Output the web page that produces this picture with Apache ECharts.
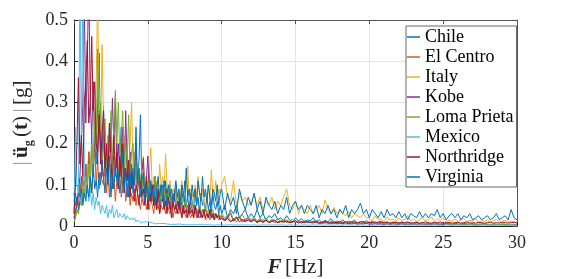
<!DOCTYPE html>
<html>
<head>
<meta charset="utf-8">
<script src="https://cdn.jsdelivr.net/npm/echarts@6/dist/echarts.min.js"></script>
<style>html,body{margin:0;padding:0;background:#fff;overflow:hidden;}#c{width:572px;height:279px;}</style>
</head>
<body>
<div id="c"></div>
<script>
// Spectra sampled at 0.1 Hz from 0 to 9.9 Hz (low band), then at 0.2 Hz from 10 to 30 Hz (high band)
const lowStart = 0, lowStep = 0.1;
const highStart = 10, highStep = 0.2;
const seriesNames = ['Chile','El Centro','Italy','Kobe','Loma Prieta','Mexico','Northridge','Virginia'];
const xTicks = [0,5,10,15,20,25,30];
const yTicks = [0,0.1,0.2,0.3,0.4,0.5];

const chileLow = [
0.06,0.08,0.05,0.09,0.07,0.12,0.06,0.1,0.15,0.08,
0.18,0.1,0.22,0.12,0.2,0.15,0.3,0.42,0.2,0.14,
0.29,0.12,0.18,0.1,0.21,0.25,0.09,0.17,0.12,0.2,
0.1,0.16,0.24,0.08,0.14,0.11,0.19,0.07,0.15,0.12,
0.09,0.14,0.2,0.1,0.16,0.27,0.08,0.12,0.06,0.11,
0.08,0.13,0.06,0.1,0.05,0.12,0.07,0.09,0.05,0.08,
0.1,0.05,0.11,0.07,0.06,0.09,0.04,0.08,0.06,0.1,
0.05,0.08,0.04,0.09,0.06,0.11,0.05,0.07,0.04,0.08,
0.06,0.04,0.09,0.05,0.07,0.03,0.08,0.05,0.06,0.04,
0.07,0.04,0.06,0.03,0.08,0.05,0.04,0.06,0.03,0.05];
const chileHigh = [
0.03,0.05,0.02,0.04,0.03,0.05,0.02,0.03,0.04,0.02,
0.03,0.02,0.04,0.02,0.03,0.015,0.025,0.02,0.03,0.015,
0.02,0.012,0.025,0.015,0.01,0.02,0.012,0.018,0.01,0.015,
0.012,0.02,0.01,0.015,0.008,0.014,0.01,0.018,0.009,0.012,
0.01,0.015,0.008,0.012,0.01,0.014,0.007,0.011,0.009,0.013,
0.008,0.011,0.007,0.01,0.012,0.007,0.009,0.006,0.01,0.008,
0.007,0.01,0.006,0.009,0.007,0.005,0.009,0.006,0.008,0.005,
0.007,0.005,0.008,0.006,0.004,0.007,0.005,0.006,0.004,0.007,
0.005,0.004,0.006,0.005,0.004,0.006,0.003,0.005,0.004,0.005,
0.004,0.003,0.005,0.004,0.003,0.005,0.004,0.003,0.004,0.003,
0.003];

const elCentroLow = [
0.02,0.04,0.06,0.05,0.1,0.08,0.12,0.07,0.15,0.1,
0.18,0.12,0.08,0.14,0.2,0.1,0.16,0.09,0.13,0.11,
0.1,0.16,0.08,0.13,0.07,0.15,0.1,0.12,0.06,0.11,
0.09,0.13,0.07,0.1,0.12,0.06,0.09,0.11,0.05,0.08,
0.06,0.09,0.05,0.08,0.06,0.04,0.07,0.05,0.08,0.04,
0.06,0.04,0.07,0.05,0.03,0.06,0.04,0.05,0.03,0.05,
0.04,0.05,0.03,0.06,0.04,0.03,0.05,0.02,0.04,0.03,
0.04,0.03,0.05,0.02,0.04,0.03,0.02,0.04,0.03,0.02,
0.03,0.02,0.04,0.02,0.03,0.02,0.025,0.02,0.03,0.015,
0.02,0.025,0.015,0.02,0.03,0.015,0.02,0.025,0.015,0.02];
const elCentroHigh = [
0.02,0.015,0.025,0.012,0.018,0.01,0.02,0.014,0.01,0.016,
0.012,0.018,0.01,0.014,0.008,0.013,0.01,0.015,0.008,0.012,
0.01,0.014,0.008,0.011,0.009,0.012,0.007,0.01,0.008,0.011,
0.008,0.01,0.007,0.009,0.006,0.01,0.007,0.008,0.006,0.009,
0.007,0.006,0.008,0.005,0.007,0.006,0.008,0.005,0.006,0.007,
0.005,0.007,0.006,0.004,0.006,0.005,0.007,0.004,0.005,0.006,
0.004,0.006,0.005,0.004,0.005,0.006,0.004,0.005,0.003,0.005,
0.004,0.005,0.003,0.004,0.005,0.003,0.004,0.005,0.003,0.004,
0.003,0.004,0.005,0.003,0.004,0.003,0.004,0.003,0.005,0.003,
0.004,0.003,0.004,0.003,0.004,0.002,0.004,0.003,0.003,0.004,
0.003];

const italyLow = [
0.01,0.02,0.04,0.03,0.06,0.05,0.08,0.1,0.07,0.12,
0.15,0.1,0.2,0.14,0.28,0.35,0.55,0.3,0.2,0.44,
0.25,0.15,0.2,0.12,0.18,0.22,0.1,0.16,0.13,0.2,
0.12,0.18,0.09,0.15,0.22,0.11,0.16,0.14,0.2,0.3,
0.13,0.18,0.1,0.15,0.12,0.09,0.14,0.17,0.08,0.12,
0.1,0.13,0.19,0.09,0.12,0.07,0.11,0.08,0.15,0.1,
0.12,0.08,0.175,0.1,0.07,0.11,0.06,0.09,0.08,0.1,
0.06,0.09,0.07,0.11,0.08,0.05,0.1,0.146,0.07,0.09,
0.08,0.06,0.1,0.07,0.12,0.08,0.06,0.09,0.05,0.08,
0.07,0.1,0.06,0.136,0.08,0.07,0.11,0.06,0.09,0.08];
const italyHigh = [
0.1,0.12,0.07,0.06,0.11,0.05,0.08,0.06,0.07,0.05,
0.06,0.075,0.05,0.07,0.04,0.06,0.05,0.07,0.04,0.06,
0.05,0.07,0.09,0.05,0.04,0.06,0.03,0.05,0.04,0.03,
0.05,0.03,0.04,0.05,0.03,0.063,0.04,0.03,0.045,0.03,
0.04,0.03,0.025,0.035,0.02,0.03,0.025,0.02,0.03,0.02,
0.02,0.012,0.025,0.015,0.018,0.01,0.022,0.014,0.017,0.011,
0.02,0.013,0.016,0.025,0.012,0.018,0.01,0.015,0.02,0.012,
0.016,0.022,0.011,0.018,0.014,0.02,0.01,0.015,0.012,0.017,
0.011,0.015,0.018,0.01,0.014,0.012,0.017,0.009,0.013,0.011,
0.015,0.01,0.013,0.016,0.009,0.012,0.014,0.01,0.012,0.009,
0.01];

const kobeLow = [
0.02,0.03,0.05,0.08,0.12,0.2,0.3,0.55,0.25,0.4,
0.6,0.3,0.22,0.35,0.18,0.25,0.15,0.28,0.2,0.12,
0.22,0.15,0.19,0.12,0.25,0.18,0.31,0.2,0.31,0.14,
0.2,0.12,0.17,0.24,0.1,0.28,0.15,0.11,0.18,0.09,
0.14,0.1,0.17,0.08,0.12,0.09,0.13,0.165,0.07,0.11,
0.17,0.08,0.1,0.06,0.09,0.12,0.05,0.08,0.07,0.1,
0.06,0.08,0.05,0.09,0.06,0.04,0.07,0.05,0.08,0.04,
0.06,0.04,0.07,0.05,0.03,0.06,0.04,0.05,0.03,0.06,
0.04,0.03,0.05,0.04,0.03,0.05,0.02,0.04,0.03,0.04,
0.03,0.02,0.04,0.03,0.02,0.03,0.025,0.02,0.03,0.02];
const kobeHigh = [
0.025,0.015,0.02,0.03,0.012,0.018,0.022,0.01,0.016,0.02,
0.012,0.016,0.01,0.018,0.011,0.014,0.009,0.013,0.015,0.008,
0.012,0.01,0.014,0.008,0.011,0.009,0.012,0.007,0.01,0.008,
0.009,0.007,0.01,0.006,0.008,0.007,0.009,0.005,0.008,0.006,
0.007,0.005,0.008,0.006,0.005,0.007,0.004,0.006,0.005,0.007,
0.005,0.004,0.006,0.004,0.005,0.003,0.005,0.004,0.006,0.004,
0.004,0.005,0.003,0.005,0.004,0.003,0.005,0.004,0.003,0.004,
0.004,0.003,0.005,0.003,0.004,0.003,0.004,0.005,0.003,0.004,
0.003,0.004,0.003,0.004,0.003,0.004,0.002,0.003,0.004,0.003,
0.003,0.004,0.002,0.003,0.003,0.004,0.002,0.003,0.003,0.002,
0.003];

const lomaPrietaLow = [
0.01,0.02,0.04,0.03,0.06,0.05,0.09,0.07,0.12,0.1,
0.15,0.09,0.2,0.14,0.25,0.18,0.43,0.22,0.3,0.16,
0.2,0.26,0.14,0.22,0.18,0.28,0.15,0.24,0.33,0.2,
0.3,0.17,0.22,0.28,0.14,0.2,0.16,0.27,0.12,0.18,
0.2,0.11,0.16,0.09,0.14,0.12,0.08,0.13,0.1,0.07,
0.11,0.08,0.1,0.06,0.09,0.12,0.07,0.08,0.05,0.1,
0.07,0.09,0.05,0.08,0.06,0.1,0.05,0.07,0.04,0.06,
0.08,0.05,0.06,0.04,0.07,0.05,0.06,0.03,0.05,0.04,
0.06,0.04,0.05,0.03,0.04,0.05,0.03,0.04,0.03,0.05,
0.03,0.04,0.02,0.03,0.04,0.02,0.03,0.025,0.03,0.02];
const lomaPrietaHigh = [
0.03,0.02,0.025,0.035,0.015,0.022,0.018,0.028,0.012,0.02,
0.016,0.022,0.012,0.018,0.014,0.02,0.01,0.016,0.012,0.018,
0.012,0.015,0.01,0.013,0.016,0.009,0.012,0.01,0.014,0.008,
0.011,0.009,0.013,0.008,0.01,0.012,0.007,0.01,0.009,0.011,
0.008,0.01,0.007,0.009,0.006,0.01,0.008,0.006,0.009,0.007,
0.006,0.008,0.005,0.007,0.006,0.008,0.005,0.007,0.006,0.005,
0.007,0.005,0.006,0.004,0.006,0.005,0.007,0.004,0.005,0.006,
0.004,0.006,0.005,0.004,0.005,0.006,0.004,0.005,0.003,0.005,
0.004,0.005,0.003,0.004,0.005,0.003,0.004,0.004,0.003,0.005,
0.003,0.004,0.003,0.004,0.003,0.004,0.003,0.003,0.004,0.003,
0.003];

const mexicoLow = [
0.03,0.24,0.1,0.08,0.62,0.2,0.58,0.12,0.08,0.1,
0.06,0.09,0.05,0.08,0.04,0.07,0.05,0.06,0.03,0.05,
0.04,0.03,0.05,0.02,0.04,0.03,0.05,0.02,0.03,0.04,
0.02,0.03,0.025,0.02,0.03,0.015,0.025,0.02,0.015,0.02,
0.015,0.02,0.01,0.015,0.012,0.008,0.012,0.01,0.008,0.01,
0.008,0.01,0.006,0.008,0.007,0.005,0.007,0.006,0.005,0.006,
0.005,0.006,0.004,0.005,0.006,0.004,0.005,0.004,0.005,0.004,
0.004,0.005,0.003,0.004,0.005,0.003,0.004,0.003,0.004,0.003,
0.004,0.003,0.004,0.003,0.003,0.004,0.003,0.003,0.004,0.003,
0.003,0.003,0.004,0.003,0.003,0.002,0.003,0.003,0.002,0.003];
const mexicoHigh = [
0.003,0.002,0.003,0.003,0.002,0.003,0.002,0.003,0.002,0.003,
0.002,0.003,0.002,0.002,0.003,0.002,0.003,0.002,0.003,0.002,
0.003,0.002,0.002,0.003,0.002,0.003,0.002,0.002,0.003,0.002,
0.002,0.003,0.002,0.003,0.002,0.002,0.003,0.002,0.002,0.003,
0.002,0.002,0.003,0.002,0.003,0.002,0.002,0.003,0.002,0.002,
0.003,0.002,0.002,0.003,0.002,0.002,0.003,0.002,0.002,0.002,
0.002,0.003,0.002,0.002,0.002,0.003,0.002,0.002,0.003,0.002,
0.002,0.002,0.003,0.002,0.002,0.002,0.003,0.002,0.002,0.002,
0.003,0.002,0.002,0.002,0.003,0.002,0.002,0.002,0.002,0.003,
0.002,0.002,0.002,0.003,0.002,0.002,0.002,0.002,0.003,0.002,
0.002];

const northridgeLow = [
0.03,0.1,0.2,0.36,0.15,0.22,0.12,0.3,0.35,0.45,
0.25,0.3,0.46,0.28,0.35,0.2,0.18,0.27,0.15,0.22,
0.28,0.14,0.2,0.12,0.25,0.16,0.1,0.22,0.13,0.18,
0.09,0.17,0.12,0.2,0.08,0.14,0.11,0.16,0.07,0.13,
0.12,0.06,0.1,0.08,0.05,0.11,0.07,0.09,0.05,0.12,
0.04,0.08,0.06,0.1,0.05,0.07,0.04,0.09,0.03,0.06,
0.07,0.04,0.06,0.03,0.07,0.05,0.02,0.06,0.04,0.05,
0.03,0.06,0.04,0.02,0.05,0.03,0.04,0.02,0.05,0.03,
0.04,0.02,0.05,0.03,0.02,0.04,0.03,0.02,0.04,0.02,
0.03,0.02,0.04,0.02,0.03,0.015,0.03,0.02,0.025,0.015];
const northridgeHigh = [
0.02,0.012,0.018,0.01,0.015,0.022,0.01,0.016,0.012,0.014,
0.01,0.015,0.008,0.012,0.01,0.014,0.008,0.011,0.013,0.008,
0.011,0.009,0.012,0.008,0.01,0.013,0.008,0.01,0.009,0.011,
0.008,0.01,0.012,0.008,0.009,0.011,0.007,0.01,0.009,0.008,
0.01,0.008,0.011,0.007,0.009,0.01,0.008,0.009,0.011,0.007,
0.009,0.008,0.01,0.007,0.009,0.008,0.01,0.007,0.008,0.009,
0.007,0.009,0.008,0.01,0.007,0.008,0.009,0.007,0.008,0.01,
0.008,0.007,0.009,0.008,0.01,0.007,0.008,0.009,0.007,0.008,
0.009,0.007,0.008,0.01,0.007,0.008,0.007,0.009,0.008,0.007,
0.008,0.009,0.007,0.008,0.007,0.009,0.008,0.007,0.008,0.009,
0.007];

const virginiaLow = [
0.08,0.05,0.07,0.04,0.06,0.09,0.05,0.08,0.06,0.1,
0.07,0.12,0.08,0.15,0.09,0.11,0.07,0.13,0.1,0.16,
0.12,0.08,0.14,0.1,0.17,0.07,0.12,0.09,0.15,0.11,
0.13,0.08,0.11,0.18,0.09,0.14,0.07,0.12,0.1,0.15,
0.08,0.12,0.24,0.1,0.14,0.07,0.11,0.13,0.06,0.1,
0.09,0.06,0.11,0.08,0.1,0.05,0.09,0.12,0.07,0.1,
0.06,0.11,0.08,0.05,0.1,0.07,0.09,0.06,0.08,0.11,
0.07,0.09,0.05,0.1,0.08,0.06,0.14,0.07,0.09,0.06,
0.1,0.07,0.09,0.05,0.11,0.08,0.06,0.12,0.07,0.09,
0.06,0.1,0.07,0.05,0.09,0.08,0.06,0.1,0.05,0.08];
const virginiaHigh = [
0.09,0.04,0.08,0.05,0.07,0.03,0.09,0.06,0.04,0.07,
0.05,0.08,0.04,0.06,0.03,0.07,0.05,0.04,0.06,0.03,
0.05,0.04,0.07,0.03,0.05,0.06,0.04,0.05,0.03,0.05,
0.04,0.03,0.05,0.02,0.04,0.03,0.05,0.03,0.04,0.02,
0.04,0.03,0.05,0.02,0.04,0.03,0.04,0.055,0.03,0.04,
0.02,0.04,0.03,0.02,0.035,0.02,0.04,0.025,0.03,0.02,
0.035,0.02,0.03,0.015,0.03,0.025,0.02,0.035,0.02,0.03,
0.02,0.03,0.025,0.04,0.02,0.03,0.015,0.025,0.03,0.02,
0.03,0.015,0.025,0.02,0.03,0.015,0.02,0.025,0.015,0.02,
0.025,0.015,0.02,0.03,0.015,0.02,0.025,0.015,0.04,0.02,
0.015];

const lowBands = [chileLow, elCentroLow, italyLow, kobeLow, lomaPrietaLow, mexicoLow, northridgeLow, virginiaLow];
const highBands = [chileHigh, elCentroHigh, italyHigh, kobeHigh, lomaPrietaHigh, mexicoHigh, northridgeHigh, virginiaHigh];
const colors = ['#0072BD','#D95319','#EDB120','#7E2F8E','#77AC30','#4DBEEE','#A2142F','#0072BD'];

const FONT = 'Liberation Serif';
const el = document.getElementById('c');
const chart = echarts.init(el, null, {renderer:'canvas', width: 572, height: 279});

function toPairs(low, high) {
  const out = [];
  low.forEach((v, k) => out.push([+(lowStart + k * lowStep).toFixed(2), v]));
  high.forEach((v, k) => out.push([+(highStart + k * highStep).toFixed(2), v]));
  return out;
}

const series = seriesNames.map((name, s) => ({
  name: name,
  type: 'line',
  xAxisIndex: 0,
  yAxisIndex: 0,
  data: toPairs(lowBands[s], highBands[s]),
  symbol: 'none',
  showSymbol: false,
  clip: true,
  lineStyle: { width: 1, color: colors[s] },
  itemStyle: { color: colors[s] },
  animation: false
}));

chart.setOption({
  animation: false,
  backgroundColor: '#fff',
  color: colors,
  grid: { left: 74, right: 55, top: 20, bottom: 53, containLabel: false, outerBoundsMode: 'none' },
  xAxis: [{
    type: 'value', min: xTicks[0], max: xTicks[xTicks.length-1], interval: 5,
    position: 'bottom',
    axisLine: { show: true, onZero: false, lineStyle: { color: '#262626', width: 1 } },
    axisTick: { show: true, inside: true, length: 4, lineStyle: { color: '#262626' } },
    axisLabel: { fontFamily: FONT, fontSize: 18, color: '#262626', margin: 8 },
    splitLine: { show: true, lineStyle: { color: '#e3e3e3', width: 1 } },
    name: '{f|F} {n|[Hz]}',
    nameLocation: 'middle', nameGap: 31,
    nameTextStyle: { rich: {
      f: { fontFamily: FONT, fontSize: 21, fontWeight: 'bold', fontStyle: 'italic', color: '#262626' },
      n: { fontFamily: FONT, fontSize: 21, color: '#262626' }
    } }
  }, {
    type: 'value', min: xTicks[0], max: xTicks[xTicks.length-1], interval: 5,
    position: 'top',
    axisLine: { show: true, onZero: false, lineStyle: { color: '#555', width: 1 } },
    axisTick: { show: true, inside: true, length: 4, lineStyle: { color: '#555' } },
    axisLabel: { show: false },
    splitLine: { show: false }
  }],
  yAxis: [{
    type: 'value', min: yTicks[0], max: yTicks[yTicks.length-1], interval: 0.1,
    position: 'left',
    axisLine: { show: true, onZero: false, lineStyle: { color: '#262626', width: 1 } },
    axisTick: { show: true, inside: true, length: 4, lineStyle: { color: '#262626' } },
    axisLabel: { fontFamily: FONT, fontSize: 18, color: '#262626', margin: 6 },
    splitLine: { show: true, lineStyle: { color: '#e3e3e3', width: 1 } },
    name: '{bar||} {b|ü}{sub|g} {p|(}{b|t}{p|)} {bar||} {p|[g]}',
    nameLocation: 'middle', nameGap: 31, nameRotate: 90,
    nameTextStyle: { rich: {
      bar: { fontFamily: FONT, fontSize: 21, color: '#9a9a9a', lineHeight: 26 },
      b: { fontFamily: FONT, fontSize: 21, fontWeight: 'bold', color: '#262626', lineHeight: 26 },
      sub: { fontFamily: FONT, fontSize: 12, fontWeight: 'bold', color: '#262626', lineHeight: 12, verticalAlign: 'bottom' },
      p: { fontFamily: FONT, fontSize: 21, color: '#262626', lineHeight: 26 }
    } }
  }, {
    type: 'value', min: yTicks[0], max: yTicks[yTicks.length-1], interval: 0.1,
    position: 'right',
    axisLine: { show: true, onZero: false, lineStyle: { color: '#555', width: 1 } },
    axisTick: { show: true, inside: true, length: 4, lineStyle: { color: '#555' } },
    axisLabel: { show: false },
    splitLine: { show: false }
  }],
  legend: {
    orient: 'vertical',
    left: 406, top: 26,
    data: seriesNames,
    icon: 'rect',
    itemWidth: 13, itemHeight: 1.5,
    itemGap: 2,
    padding: [2, 3, 1, 1],
    backgroundColor: '#fff',
    borderColor: '#666', borderWidth: 1,
    textStyle: { fontFamily: FONT, fontSize: 18, color: '#000' }
  },
  series: series
});
</script>
</body>
</html>
